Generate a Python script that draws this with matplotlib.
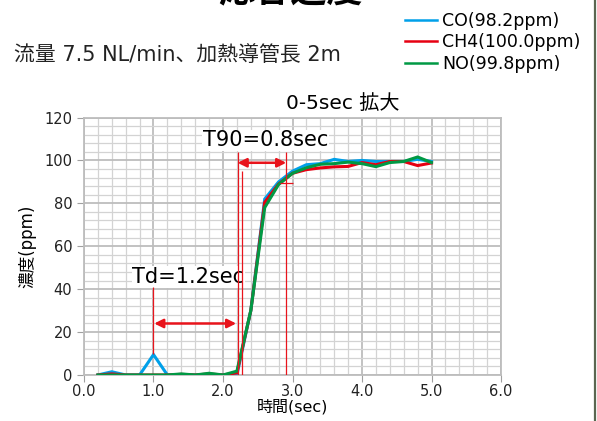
import matplotlib
matplotlib.use("Agg")
import matplotlib.pyplot as plt
from matplotlib.lines import Line2D
from matplotlib.ticker import MultipleLocator, FormatStrFormatter

plt.rcParams["font.family"] = ["DejaVu Sans", "Noto Sans CJK JP"]

# Response data (sampled every 0.2 sec)
time_sec = [0.2, 0.4, 0.6, 0.8, 1.0, 1.2, 1.4, 1.6, 1.8, 2.0, 2.2, 2.4, 2.6,
            2.8, 3.0, 3.2, 3.4, 3.6, 3.8, 4.0, 4.2, 4.4, 4.6, 4.8, 5.0]
co = [0, 1.5, 0, 0, 9.5, 0, 0, 0, 0, 0, 0, 30, 82, 90, 95, 98, 98.5,
      100.5, 99.5, 100, 99.5, 99.5, 99.5, 100.5, 99.5]
ch4 = [0, 0.5, 0, 0, 0, 0, 0.3, 0, 0.5, 0, 1, 30, 80.5, 89, 94, 95.7,
       96.5, 97, 97.2, 99, 98, 99.5, 99.5, 97.6, 98.8]
no = [0, 0, 0, 0, 0, 0, 0.5, 0, 0.8, 0, 1.8, 30, 78, 88.8, 94, 96.6,
      98.2, 98.5, 99.2, 98.5, 97.1, 99, 99.5, 101.6, 99]
labels = ["CO(98.2ppm)", "CH4(100.0ppm)", "NO(99.8ppm)"]
colors = ["#00a0e9", "#e60012", "#009944"]

# annotation markers
td_start, td_end = 1.0, 2.2
t90_start, t90_end = 2.27, 2.91
RED = "#e8141c"

fig = plt.figure(figsize=(5.97, 4.21), dpi=100)
ax = fig.add_axes([0.1407, 0.1093, 0.6985, 0.6116])

for y, c, lab in zip([co, ch4, no], colors, labels):
    ax.plot(time_sec, y, color=c, lw=2.2, label=lab, zorder=3,
            solid_joinstyle="miter")

ax.set_xlim(0, 6)
ax.set_ylim(0, 120)
ax.xaxis.set_major_locator(MultipleLocator(1))
ax.xaxis.set_minor_locator(MultipleLocator(0.2))
ax.yaxis.set_major_locator(MultipleLocator(20))
ax.yaxis.set_minor_locator(MultipleLocator(4))
ax.xaxis.set_major_formatter(FormatStrFormatter("%.1f"))
ax.grid(which="major", color="#bdbdbd", lw=1.3, zorder=0)
ax.grid(which="minor", color="#d3d3d3", lw=0.9, zorder=0)
ax.set_axisbelow(True)
for s in ax.spines.values():
    s.set_color("#bdbdbd")
    s.set_linewidth(1.3)
ax.tick_params(which="major", length=5, color="#a0a0a0", labelsize=10.5,
               labelcolor="#222222")
ax.tick_params(axis="x", which="major", pad=1.5)
ax.tick_params(which="minor", length=0)

ax.set_xlabel("時間(sec)", fontsize=11.5, labelpad=0)
ax.set_ylabel("濃度(ppm)", fontsize=12, labelpad=6)
ax.set_title("0-5sec 拡大", fontsize=14.5, x=0.62, pad=6)

# Td / T90 annotations
ax.text(1.5, 45.7, "Td=1.2sec", fontsize=15, ha="center", va="center",
        zorder=4, bbox=dict(fc="white", ec="none", pad=0.5))
ax.text(2.61, 109.3, "T90=0.8sec", fontsize=15, ha="center", va="center",
        zorder=4, bbox=dict(fc="white", ec="none", pad=0.5))
ax.vlines(td_start, 10, 41, color=RED, lw=0.9, zorder=5)
ax.vlines(td_end + 0.015, 0, 104, color=RED, lw=0.9, zorder=5)
ax.vlines(t90_start, 0, 95, color=RED, lw=0.9, zorder=5)
ax.vlines(t90_end, 0, 104, color=RED, lw=0.9, zorder=5)
ax.hlines(89.3, 2.82, 3.01, color=RED, lw=0.9, zorder=5)
arrow = dict(arrowstyle="<|-|>", color=RED, lw=1.8, mutation_scale=13,
             shrinkA=0, shrinkB=0)
ax.annotate("", xy=(td_start + 0.01, 24), xytext=(td_end - 0.01, 24),
            arrowprops=arrow, zorder=5)
ax.annotate("", xy=(td_end + 0.01, 98.9), xytext=(t90_end, 98.9),
            arrowprops=arrow, zorder=5)

fig.text(290 / 597, 1 - 1 / 421, "応答速度", fontsize=26, fontweight="bold",
         ha="center", va="baseline")
fig.text(14 / 597, 1 - 55 / 421, "流量 7.5 NL/min、加熱導管長 2m",
         fontsize=15, ha="left", va="center", color="#222222")

handles = [Line2D([], [], color=c, lw=1.8) for c in colors]
fig.legend(handles, labels, loc="upper left",
           bbox_to_anchor=(405 / 597, 1 - 12 / 421), frameon=False,
           fontsize=12.5, handlelength=1.85, handletextpad=0.3,
           labelspacing=0.2, borderpad=0, borderaxespad=0)

# right edge border of the panel
fig.add_artist(Line2D([594.5 / 597] * 2, [0, 1], transform=fig.transFigure,
                      color="#5a6650", lw=1.6))

fig.savefig("out.png", dpi=100)
